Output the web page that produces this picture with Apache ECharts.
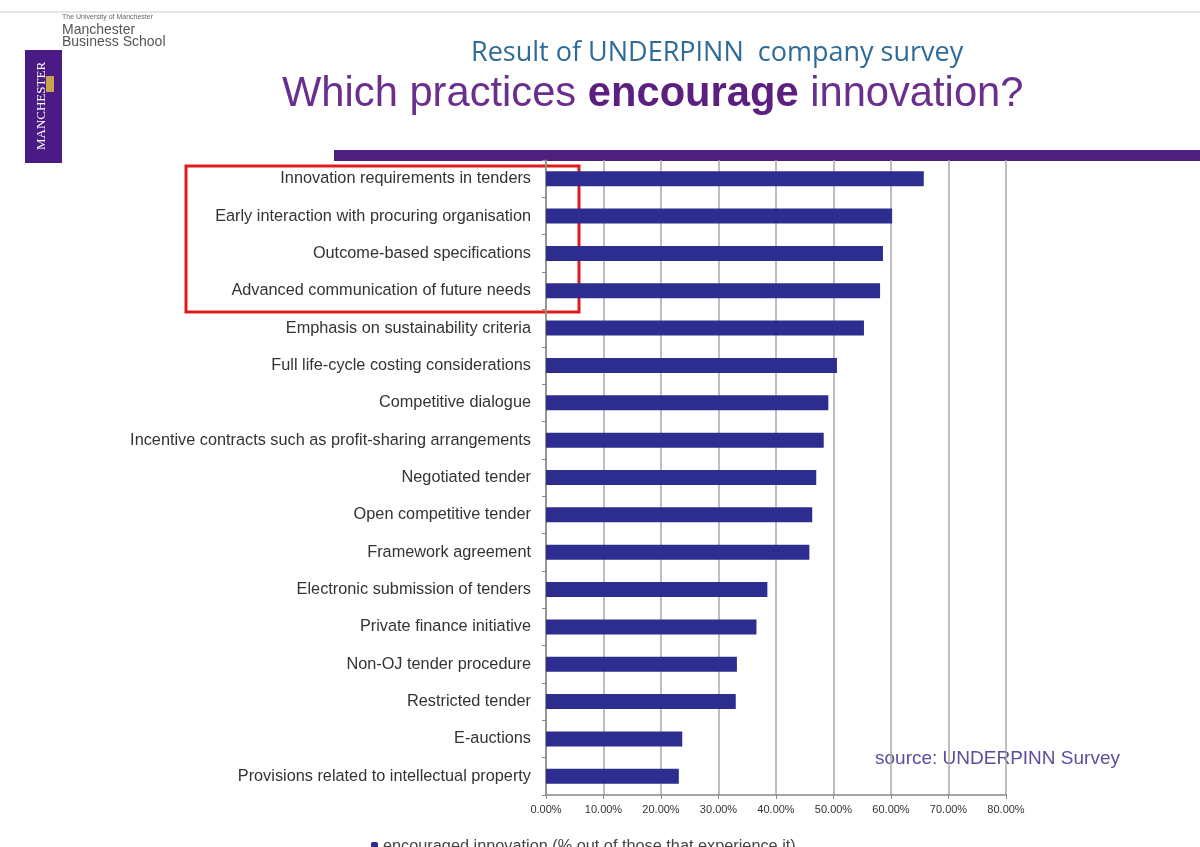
<!DOCTYPE html>
<html><head><meta charset="utf-8">
<script src="https://cdn.jsdelivr.net/npm/echarts@6/dist/echarts.min.js"></script>
<style>html,body{margin:0;padding:0;background:#fff}#c{width:1200px;height:847px}</style>
</head><body><div id="c"></div>
<script>
const categories = [
  "Innovation requirements in tenders",
  "Early interaction with procuring organisation",
  "Outcome-based specifications",
  "Advanced communication of future needs",
  "Emphasis on sustainability criteria",
  "Full life-cycle costing considerations",
  "Competitive dialogue",
  "Incentive contracts such as profit-sharing arrangements",
  "Negotiated tender",
  "Open competitive tender",
  "Framework agreement",
  "Electronic submission of tenders",
  "Private finance initiative",
  "Non-OJ tender procedure",
  "Restricted tender",
  "E-auctions",
  "Provisions related to intellectual property"
];
const encouraged = [65.7, 60.2, 58.6, 58.1, 55.3, 50.6, 49.1, 48.3, 47.0, 46.3, 45.8, 38.5, 36.6, 33.2, 33.0, 23.7, 23.1];
const xTicks = [0, 10, 20, 30, 40, 50, 60, 70, 80];
const seriesName = "encouraged innovation (% out of those that experience it)";

const chart = echarts.init(document.getElementById('c'));
chart.setOption({
  backgroundColor: '#ffffff',
  animation: false,
  title: [
    { text: 'Result of UNDERPINN  company survey', left: 466, top: 35,
      textStyle: { fontFamily: 'Open Sans', fontSize: 27, fontWeight: 'normal', color: '#2f6b98' } },
    { text: '{a|Which practices }{b|encourage}{a| innovation?}', left: 277, top: 69,
      textStyle: { rich: {
        a: { fontFamily: 'Liberation Sans', fontSize: 41.7, fontWeight: 'normal', color: '#6a2f8e' },
        b: { fontFamily: 'Liberation Sans', fontSize: 41.7, fontWeight: 'bold', color: '#5b1f80' }
      } } }
  ],
  legend: {
    data: [seriesName], left: 366, top: 834, itemWidth: 7, itemHeight: 10, itemGap: 3,
    textStyle: { fontFamily: 'Liberation Sans', fontSize: 16.3, color: '#444' }
  },
  grid: { left: 546, right: 194, top: 160, bottom: 52, containLabel: false },
  xAxis: {
    type: 'value', min: 0, max: 80, interval: 10,
    axisLine: { show: true, lineStyle: { color: '#888', width: 1.5 } },
    axisTick: { show: true, length: 4, lineStyle: { color: '#888' } },
    axisLabel: { fontFamily: 'Liberation Sans', fontSize: 11, color: '#333', margin: 9,
      formatter: v => xTicks.includes(v) ? v.toFixed(2) + '%' : '' },
    splitLine: { show: true, lineStyle: { color: '#a8a8a8', width: 1.5 } }
  },
  yAxis: {
    type: 'category', data: categories, inverse: true,
    axisLine: { show: true, lineStyle: { color: '#888', width: 1.5 } },
    axisTick: { show: true, length: 4, lineStyle: { color: '#888' } },
    axisLabel: { fontFamily: 'Liberation Sans', fontSize: 16.3, color: '#333', margin: 15 }
  },
  series: [{
    name: seriesName, type: 'bar', data: encouraged, barWidth: 15,
    itemStyle: { color: '#2c2d8f' }
  }],
  graphic: [
    { type: 'rect', shape: { x: 0, y: 11, width: 1200, height: 2 }, style: { fill: '#e6e6e6' } },
    { type: 'rect', shape: { x: 334, y: 150, width: 866, height: 11 }, style: { fill: '#4e1f7c' } },
    { type: 'rect', shape: { x: 186, y: 166, width: 393, height: 146 },
      style: { fill: 'none', stroke: '#e01b1b', lineWidth: 3 } },
    { type: 'rect', shape: { x: 25, y: 50, width: 37, height: 113 }, style: { fill: '#4a1a85' } },
    { type: 'text', x: 42, y: 106, rotation: Math.PI / 2, style: {
        text: 'MANCHESTER', fill: '#ffffff', font: '13px "Liberation Serif"', align: 'center', verticalAlign: 'middle' } },
    { type: 'rect', shape: { x: 46, y: 76, width: 8, height: 16 }, style: { fill: '#c9a54a' } },
    { type: 'text', x: 62, y: 14, style: { text: 'The University of Manchester', fill: '#666', font: '7px "Liberation Sans"' } },
    { type: 'text', x: 62, y: 23, style: { text: 'Manchester', fill: '#555', font: '14px "Liberation Sans"' } },
    { type: 'text', x: 62, y: 35, style: { text: 'Business School', fill: '#555', font: '14px "Liberation Sans"' } },
    { type: 'text', x: 875, y: 749, style: { text: 'source: UNDERPINN Survey', fill: '#5e4c9c', font: '19px "Liberation Sans"' } }
  ]
});
</script></body></html>
